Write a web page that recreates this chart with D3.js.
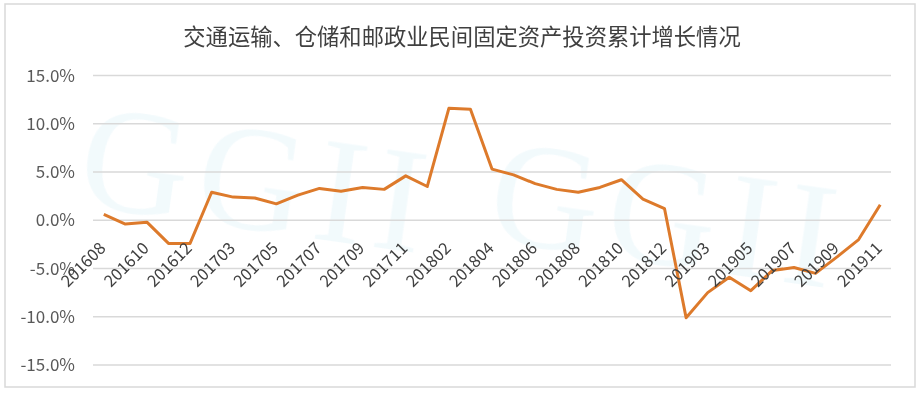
<!DOCTYPE html>
<meta charset="utf-8">
<head>
    <script src="https://d3js.org/d3.v7.min.js"></script>
    <style>
        body { margin: 0; background: #fff; }
        text { font-family: "Noto Sans CJK SC", "Noto Sans", sans-serif; }
    </style>
</head>
<body>
    <div id="chart"></div>
    <script>

    // months (January is merged into February in the statistics)
    var months = ["201608","201609","201610","201611","201612",
        "201702","201703","201704","201705","201706","201707","201708","201709","201710","201711","201712",
        "201802","201803","201804","201805","201806","201807","201808","201809","201810","201811","201812",
        "201902","201903","201904","201905","201906","201907","201908","201909","201910","201911"]

    // cumulative growth, %
    var growth = [0.6, -0.4, -0.2, -2.4, -2.4,
        2.9, 2.4, 2.3, 1.7, 2.6, 3.3, 3.0, 3.4, 3.2, 4.6, 3.5,
        11.6, 11.5, 5.3, 4.7, 3.8, 3.2, 2.9, 3.4, 4.2, 2.2, 1.2,
        -10.1, -7.5, -5.9, -7.3, -5.2, -4.9, -5.5, -3.8, -2.0, 1.6]

    var yTicks = [-15, -10, -5, 0, 5, 10, 15]

    var title = "交通运输、仓储和邮政业民间固定资产投资累计增长情况"

    var width = 924,
        height = 395

    var svg = d3.select("#chart")
                .append("svg")
                .attr("width", width)
                .attr("height", height)

    // outer frame
    svg.append("rect")
        .attr("x", 5).attr("y", 4)
        .attr("width", 910).attr("height", 383)
        .attr("fill", "#fff")
        .attr("stroke", "#d9d9d9")
        .attr("stroke-width", 1.5)

    // faint watermark
    var wm = svg.append("g").attr("opacity", 0.45)
    wm.append("text")
        .attr("transform", "translate(75,205) rotate(8)")
        .style("font-family", "'Liberation Serif', serif")
        .style("font-size", "150px")
        .style("letter-spacing", "10px")
        .attr("fill", "#e3f4f9")
        .text("GGII")
    wm.append("text")
        .attr("transform", "translate(485,240) rotate(8)")
        .style("font-family", "'Liberation Serif', serif")
        .style("font-size", "150px")
        .style("letter-spacing", "10px")
        .attr("fill", "#e3f4f9")
        .text("GGII")

    svg.append("text")
        .attr("x", 462)
        .attr("y", 45)
        .attr("text-anchor", "middle")
        .style("font-size", "22.3px")
        .attr("fill", "#404040")
        .text(title)

    var x = d3.scaleBand()
              .domain(months)
              .range([93, 891])
              .padding(0)

    var y = d3.scaleLinear()
              .domain([-15, 15])
              .range([365, 75.5])

    // gridlines
    svg.selectAll("grid")
        .data(yTicks)
        .enter()
        .append("line")
        .attr("x1", 93).attr("x2", 891)
        .attr("y1", function(d){ return y(d) })
        .attr("y2", function(d){ return y(d) })
        .attr("stroke", "#d9d9d9")
        .attr("stroke-width", 1.5)

    // y labels
    svg.selectAll("ylab")
        .data(yTicks)
        .enter()
        .append("text")
        .attr("x", 75)
        .attr("y", function(d){ return y(d) + 6 })
        .attr("text-anchor", "end")
        .style("font-size", "17px")
        .attr("fill", "#595959")
        .text(function(d){ return d.toFixed(1) + "%" })

    // the line
    var line = d3.line()
                 .x(function(d, i){ return x(months[i]) + x.bandwidth() / 2 })
                 .y(function(d){ return y(d) })

    svg.append("path")
        .datum(growth)
        .attr("d", line)
        .attr("fill", "none")
        .attr("stroke", "#dd7a2b")
        .attr("stroke-width", 3)
        .attr("stroke-linejoin", "round")

    // x labels, every other month
    svg.selectAll("xlab")
        .data(months.filter(function(d, i){ return i % 2 == 0 }))
        .enter()
        .append("text")
        .attr("transform", function(d){
            var px = x(d) + x.bandwidth() / 2 + 3
            return "translate(" + px + "," + (y(0) + 29) + ") rotate(-45)"
        })
        .attr("text-anchor", "end")
        .style("font-size", "16.5px")
        .attr("fill", "#404040")
        .text(function(d){ return d })

    </script>
</body>
